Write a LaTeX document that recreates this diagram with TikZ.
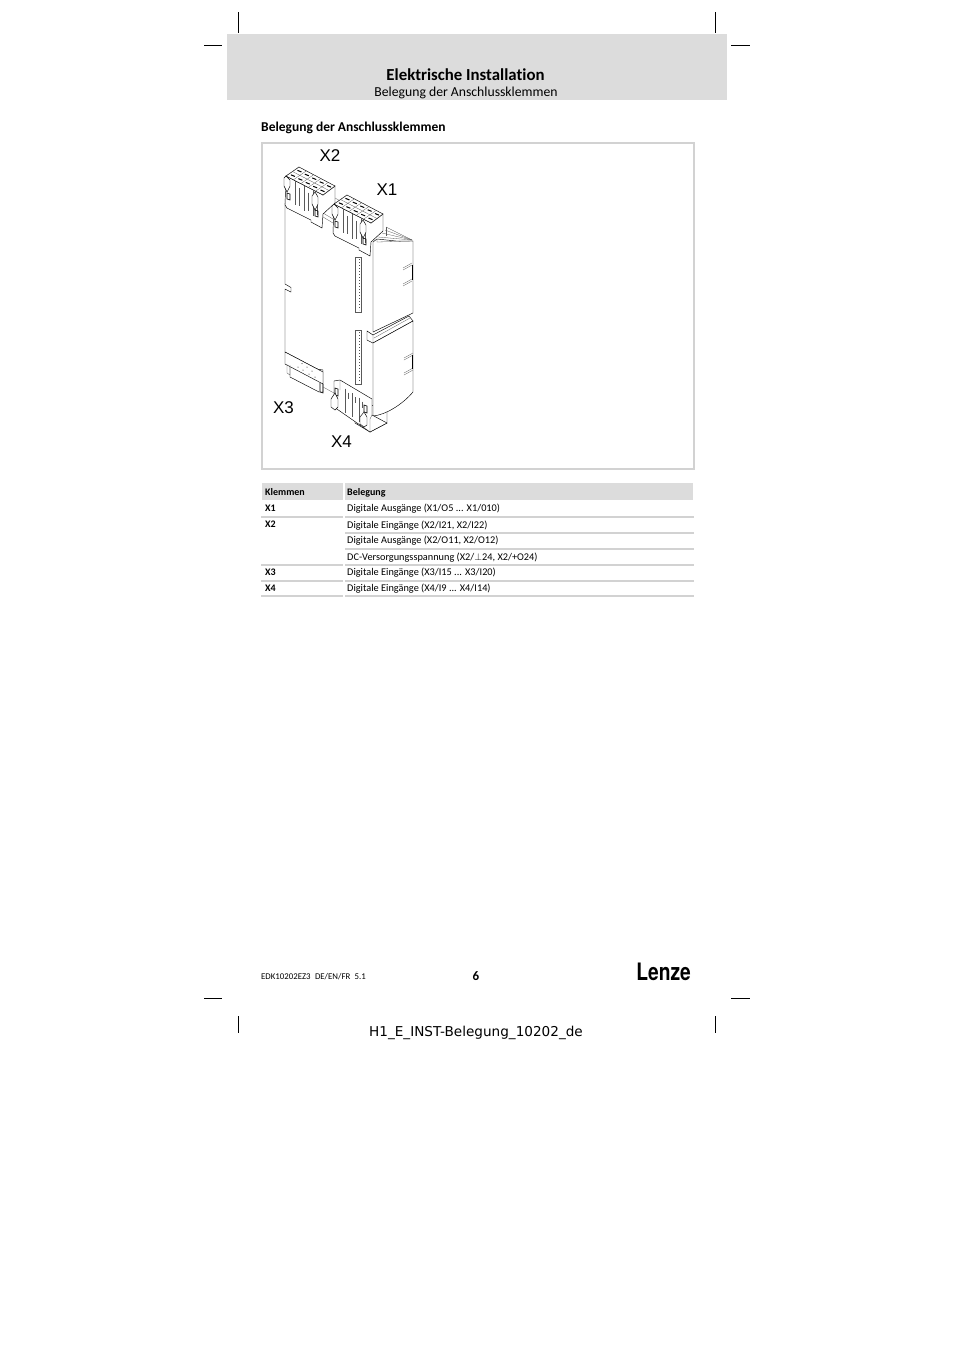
\documentclass[tikz,border=0pt]{standalone}
\usepackage{graphicx}
\usepackage{fontspec}
\setmainfont[Ligatures=CommonOff]{Carlito}
\newfontfamily\labelfont{Liberation Sans}
\newfontfamily\slugfont{DejaVu Sans}
\newfontfamily\logofont{TeX Gyre Heros}
\definecolor{bandgray}{HTML}{DCDCDC}
\definecolor{rulegray}{HTML}{D2D2D2}
\tikzset{
  txt/.style={anchor=base west,inner sep=0pt,font=\fontsize{10.3}{12}\selectfont},
  hd/.style={txt,font=\fontsize{10}{12}\selectfont\bfseries},
  xlabel/.style={inner sep=0pt,font=\fontsize{17}{20}\selectfont\labelfont},
  crop/.style={line width=.8pt},
  part/.style={line width=.45pt,fill=white},
  thin part/.style={line width=.3pt,color=black!65},
  pin/.style={line width=.6pt},
  rowline/.style={rulegray,line width=1.6pt}
}
% terminal block, given at the position of X2
\newcommand{\terminalblock}[1]{
  \begin{scope}[shift={#1}]
  \draw[part] (286,176) -- (285,205) -- (287,208) -- (311,220) -- (311,222) -- (322,228) -- (323,214) -- (335,203) -- (335,186) -- (323,195) -- cycle;
  \draw[part] (299,167) -- (335,186) -- (323,195) -- (286,176) -- cycle;
  \foreach \i in {0,...,4} {
    \foreach \j in {0,1} {
      \draw[line width=1pt] ({286+(\i+.5)*7.4+(\j+.5)*6.5-2},{176+(\i+.5)*3.8-(\j+.5)*4.5-.8}) -- ++(4,1.6);
    }
    \draw[thin part] ({286+\i*7.4},{176+\i*3.8}) -- ++(13,-9);
  }
  \draw[thin part] (292.5,171.5) -- (329,190.5);
  \foreach \i in {1,2,3} {
    \draw[thin part] ({286+\i*9.2},{176+\i*4.8}) -- ++(0,{24+\i*.5});
    \draw[thin part] ({290+\i*9.2},{183+\i*4.8}) -- ++(0,{18});
  }
  \draw[part] (284,178) -- (284,186) -- (287,192) -- (290,186) -- (290,180) -- (286,176) -- cycle;
  \draw[pin] (287,193) -- (287,199) -- (290,200) -- (290,194) -- cycle;
  \draw[part] (312,196) -- (312,204) -- (315,210) -- (318,204) -- (318,197) -- (315,192) -- cycle;
  \draw[pin] (315,210) -- (315,216) -- (318,217) -- (318,211) -- cycle;
  \end{scope}
}
\begin{document}
\begin{tikzpicture}[x=1pt,y=-1pt]
  \useasboundingbox (0,0) rectangle (954,1350);
  % page head
  \fill[bandgray] (227,34) rectangle (727,100);
  \node[inner sep=0pt,anchor=base] (title) at (465.5,80) {\fontsize{16.8}{20}\selectfont\bfseries Elektrische Installation};
  \node[inner sep=0pt,anchor=base] (subtitle) at (466,96) {\fontsize{13.7}{16}\selectfont Belegung der Anschlussklemmen};
  \node[inner sep=0pt,anchor=base west] (heading) at (261,131) {\fontsize{13.5}{16}\selectfont\bfseries Belegung der Anschlussklemmen};
  % crop marks
  \foreach \x in {238.6,715.6} {
    \draw[crop] (\x,12) -- (\x,33);
    \draw[crop] (\x,1016) -- (\x,1033);
  }
  \foreach \y in {45,998} {
    \draw[crop] (204,\y) -- (222,\y);
    \draw[crop] (731,\y) -- (750,\y);
  }
  % picture frame
  \draw[rulegray,line width=2pt] (262,143) rectangle (694,469);
  % body
  \draw[part] (285,203) -- (285,284) -- (291,287.5) -- (291,292) -- (285,289) -- (285,352) -- (323,372);
  \draw[thin part] (335,198) -- (342,202) (323,213) -- (333,219) (323,217) -- (333,223);
  % cooling fins
  \foreach \a/\b in {386/227,385/230,382/233,378/237} {
    \draw[thin part] (\a,\b) -- (412,240);
  }
  \draw[thin part] (386,227) -- (386,236);
  % upper housing
  \draw[part] (373,332) -- (373,242) -- (377,239) -- (396,241) -- (413,241) -- (413,313) -- cycle;
  \draw[thin part] (377,239) -- (377,242) -- (413,241);
  \draw[thin part] (403,268) -- (412,263) (403,270) -- (412,265);
  \draw[thin part] (403,284) -- (412,279) (403,286) -- (412,281);
  \draw[pin] (412,265) -- (412,280);
  % rail between housings
  \draw[part] (367,331) -- (367,340) -- (373,343) -- (413,321) -- (409,316) -- (373,335) -- cycle;
  \draw[thin part] (373,335) -- (373,343) (374,338) -- (410,318);
  % lower housing
  \draw[part] (387,410) -- (387,423) -- (370,432) -- (355,423) -- (355,400) -- cycle;
  \draw[part] (373,343) -- (413,321) -- (413,392) .. controls (402,405) and (385,415) .. (373,416) -- cycle;
  \draw[thin part] (404,358) -- (413,353) (404,360) -- (413,355);
  \draw[thin part] (404,373) -- (413,368) (404,375) -- (413,370);
  \draw[pin] (412,355) -- (412,369);
  % led strips
  \foreach \t/\b in {257/312,330/384} {
    \draw[thin part,fill=white] (355,\t) rectangle (361,\b);
    \draw[black!70,line width=.7pt,dash pattern=on .7pt off 2.3pt] (359,{\t+2}) -- (359,{\b-2});
  }
  % X3
  \draw[part] (290,365) -- (290,377) -- (319,392) -- (323,392) -- (323,370) -- cycle;
  \draw[part] (285,352) -- (323,372) -- (323,384) -- (285,364) -- cycle;
  \draw[thin part] (287,364) -- (287,373) -- (290,375) -- (290,365);
  \draw[pin] (320,383) -- (320,392) -- (323,393) -- (323,384);
  \foreach \x/\y in {302/363.5,307/367,312/371,298/367,303/370,309/374,315/377} {
    \fill (\x,\y) circle (.5);
  }
  \draw[thin part] (323,387) -- (334,393);
  % X4
  \draw[part] (334,381) -- (340,380) -- (372,399) -- (372,415) -- (387,423) -- (370,432) -- (334,407) -- cycle;
  \draw[thin part] (340,380) -- (340,390) (370,432) -- (370,419) -- (372,415);
  \foreach \i in {1,2,3} {
    \draw[thin part] ({338+\i*7},{384+\i*4.5}) -- ++(0,{24});
    \draw[thin part] ({341+\i*7},{388+\i*4.5}) -- ++(0,6);
  }
  \draw[pin] (335,388) -- (335,395) -- (338,396) -- (338,389) -- cycle;
  \draw[part] (331,399) -- (331,407) -- (335,410) -- (338,407) -- (338,399) -- (335,393) -- cycle;
  \draw[pin] (364,405) -- (364,412) -- (367,413) -- (367,406) -- cycle;
  \draw[part] (360,417) -- (360,424) -- (364,427) -- (367,425) -- (367,417) -- (364,412) -- cycle;
  % X2 and X1
  \terminalblock{(48,28)}
  \terminalblock{(0,0)}
  \node[xlabel] (xtwo) at (330,155.5) {X2};
  \node[xlabel] (xone) at (387,189.5) {X1};
  \node[xlabel] (xthree) at (283.5,407.5) {X3};
  \node[xlabel] (xfour) at (341.5,441.5) {X4};
  % table
  \fill[bandgray] (262,483) rectangle (343,500);
  \fill[bandgray] (345,483) rectangle (693,500);
  \node[hd] (klemmen) at (265,495) {Klemmen};
  \node[hd] (belegung) at (347,495) {Belegung};
  \foreach \y in {517,565,581,596} {
    \draw[rowline] (261,\y) -- (343,\y);
    \draw[rowline] (345,\y) -- (694,\y);
  }
  \foreach \y in {533,549} {
    \draw[rowline] (345,\y) -- (694,\y);
  }
  \node[hd] (xa) at (265,511) {X1};
  \node[hd] (xb) at (265,527) {X2};
  \node[hd] (xc) at (265,575) {X3};
  \node[hd] (xd) at (265,591) {X4};
  \node[txt] (ra) at (347,511) {Digitale Ausgänge (X1/O5 ... X1/010)};
  \node[txt] (rb) at (347,528) {Digitale Eingänge (X2/I21, X2/I22)};
  \node[txt] (rc) at (347,543) {Digitale Ausgänge (X2/O11, X2/O12)};
  \node[txt] (rd) at (347,560) {DC-Versorgungsspannung (X2/$\perp$24, X2/+O24)};
  \node[txt] (re) at (347,575) {Digitale Eingänge (X3/I15 ... X3/I20)};
  \node[txt] (rf) at (347,591) {Digitale Eingänge (X4/I9 ... X4/I14)};
  % page foot
  \node[inner sep=0pt,anchor=base west] (edk) at (261,979) {\fontsize{8.8}{10}\selectfont EDK10202EZ3\enspace DE/EN/FR\enspace 5.1};
  \node[inner sep=0pt,anchor=base] (pageno) at (476,980) {\fontsize{13}{16}\selectfont\bfseries 6};
  \node[inner sep=0pt,anchor=base east] (logo) at (691,980.5) {\scalebox{.8}[1]{\fontsize{24}{26}\selectfont\logofont\bfseries Lenze}};
  \node[inner sep=0pt,anchor=base] (slug) at (476,1036) {\fontsize{13.6}{16}\selectfont\slugfont H1\_E\_INST-Belegung\_10202\_de};
\end{tikzpicture}
\end{document}
